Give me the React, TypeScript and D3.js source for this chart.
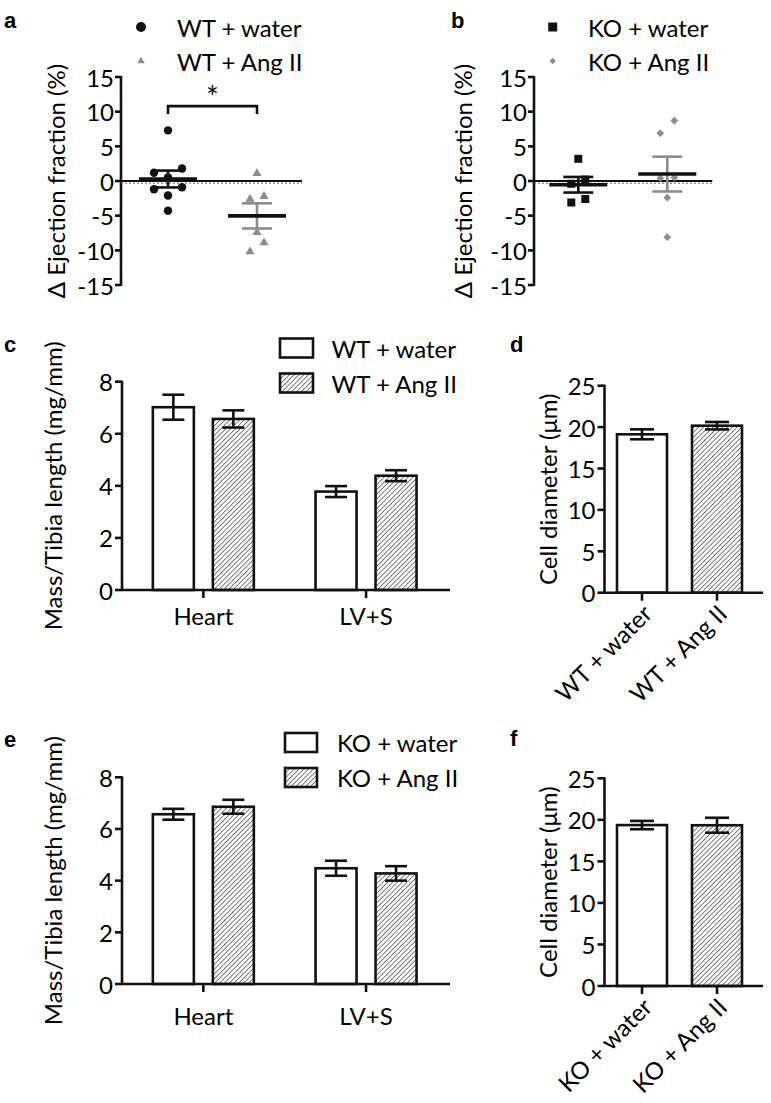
import React from "react";
import * as d3 from "d3";

// ---------------- data ----------------
const efTicks = [-15, -10, -5, 0, 5, 10, 15];
const wtGroups = ["WT + water", "WT + Ang II"];
const koGroups = ["KO + water", "KO + Ang II"];
const wtWaterEF = [7.3, 1.8, 1.2, 0.5, -0.9, -1.2, -2.1, -4.3];
const wtAngEF = [1.1, -2.2, -2.6, -7.4, -8.9, -10.2];
const koWaterEF = [3.2, 0.2, -0.4, -2.6, -3.1];
const koAngEF = [8.7, 6.9, 0.5, 0.4, -2.4, -8.1];
const sigLevel = 10.8;

const massCategories = ["Heart", "LV+S"];
const massTicks = [0, 2, 4, 6, 8];
const wtWaterMass = [7.02, 3.78];
const wtWaterMassSem = [0.48, 0.21];
const wtAngMass = [6.57, 4.39];
const wtAngMassSem = [0.33, 0.21];
const koWaterMass = [6.57, 4.48];
const koWaterMassSem = [0.21, 0.29];
const koAngMass = [6.86, 4.28];
const koAngMassSem = [0.27, 0.28];

const cellTicks = [0, 5, 10, 15, 20, 25];
const wtCell = [19.13, 20.17];
const wtCellSem = [0.6, 0.45];
const koCell = [19.37, 19.35];
const koCellSem = [0.5, 0.9];

// ---------------- style ----------------
const FONT = "Lato, 'Open Sans', sans-serif";
const BOLD = "'Liberation Sans', Arial, sans-serif";
const FS = 24;
const BLACK = "#111";
const GREY = "#8c8c8c";
const SW = 2.6;

type Mk = { type: d3.SymbolType; size: number; rot: number };

function Marker({ mk, x, y, color }: { mk: Mk; x: number; y: number; color: string }) {
  const d = d3.symbol().type(mk.type).size(mk.size)() as string;
  return <path d={d} transform={`translate(${x},${y}) rotate(${mk.rot})`} fill={color} />;
}

function swarmOffsets(values: number[], y: (v: number) => number, gap: number, step: number) {
  const idx = values.map((_, i) => i).sort((a, b) => values[a] - values[b]);
  const off = new Array(values.length).fill(0);
  let row: number[] = [];
  const flush = () => {
    const k = row.length;
    row.forEach((id, j) => {
      if (k % 2 === 1) {
        if (j === 0) off[id] = 0;
        else off[id] = (j % 2 === 1 ? -1 : 1) * Math.ceil(j / 2) * step;
      } else {
        off[id] = (j % 2 === 0 ? -1 : 1) * (Math.floor(j / 2) + 0.5) * step;
      }
    });
    row = [];
  };
  idx.forEach((id) => {
    if (row.length && Math.abs(y(values[id]) - y(values[row[0]])) >= gap) flush();
    row.push(id);
  });
  flush();
  return off;
}

function EFPanel(props: {
  axisX: number; firstX: number; groups: string[]; data: number[][];
  markers: Mk[]; legendMarkers: Mk[]; colors: string[]; semColors: string[];
  legendX: number; textX: number; panel: string; panelX: number; ylabelX: number; sig?: boolean;
}) {
  const { axisX, firstX, groups, data, markers, legendMarkers, colors, semColors, legendX, textX, panel, panelX, ylabelX, sig } = props;
  const y = d3.scaleLinear().domain([-15, 15]).range([285, 77]);
  const x = d3.scalePoint<string>().domain(groups).range([firstX, firstX + 89]);
  const zeroEnd = firstX + 89 + 45;
  const y0 = y(0);
  return (
    <g>
      <text x={panelX} y={28} fontFamily={BOLD} fontWeight="bold" fontSize={22}>{panel}</text>
      {groups.map((g, i) => (
        <g key={g}>
          <Marker mk={legendMarkers[i]} x={legendX} y={27 + i * 34} color={colors[i]} />
          <text x={textX} y={27 + i * 34} dominantBaseline="central" fontFamily={FONT} fontSize={FS}>{g}</text>
        </g>
      ))}
      <text transform={`translate(${ylabelX},${(y(15) + y(-15)) / 2}) rotate(-90)`} textAnchor="middle" dominantBaseline="central" fontFamily={FONT} fontSize={FS}>Δ Ejection fraction (%)</text>
      <line x1={axisX} x2={axisX} y1={y(15) - 1} y2={y(-15) + 1} stroke={BLACK} strokeWidth={SW} />
      {efTicks.map((t) => (
        <g key={t}>
          <line x1={axisX - 6} x2={axisX} y1={y(t)} y2={y(t)} stroke={BLACK} strokeWidth={SW} />
          <text x={axisX - 7} y={y(t)} textAnchor="end" dominantBaseline="central" fontFamily={FONT} fontSize={FS}>{t}</text>
        </g>
      ))}
      <line x1={axisX} x2={zeroEnd} y1={y0 + 2.2} y2={y0 + 2.2} stroke="#666" strokeWidth={1} strokeDasharray="2,2" />
      <line x1={axisX} x2={zeroEnd} y1={y0} y2={y0} stroke={BLACK} strokeWidth={2} />
      {groups.map((g, i) => {
        const vals = data[i];
        const cx = x(g) as number;
        const offs = swarmOffsets(vals, y, 13, 14);
        return (
          <g key={g}>
            {vals.map((v, j) => (
              <Marker key={j} mk={markers[i]} x={cx + offs[j]} y={y(v)} color={colors[i]} />
            ))}
          </g>
        );
      })}
      {groups.map((g, i) => {
        const vals = data[i];
        const cx = x(g) as number;
        const m = d3.mean(vals) as number;
        const sem = (d3.deviation(vals) as number) / Math.sqrt(vals.length);
        const c = semColors[i];
        return (
          <g key={g}>
            <line x1={cx} x2={cx} y1={y(m + sem)} y2={y(m - sem)} stroke={c} strokeWidth={SW} />
            <line x1={cx - 15} x2={cx + 15} y1={y(m + sem)} y2={y(m + sem)} stroke={c} strokeWidth={SW} />
            <line x1={cx - 15} x2={cx + 15} y1={y(m - sem)} y2={y(m - sem)} stroke={c} strokeWidth={SW} />
            <line x1={cx - 29} x2={cx + 29} y1={y(m)} y2={y(m)} stroke={BLACK} strokeWidth={3.6} />
          </g>
        );
      })}
      {sig && (
        <g>
          <path d={`M${x(groups[0])},${y(sigLevel) + 8}V${y(sigLevel)}H${x(groups[1])}V${y(sigLevel) + 8}`} fill="none" stroke={BLACK} strokeWidth={SW} />
          <text x={((x(groups[0]) as number) + (x(groups[1]) as number)) / 2} y={y(sigLevel) + 2} textAnchor="middle" fontFamily={FONT} fontSize={30}>*</text>
        </g>
      )}
    </g>
  );
}

function MassPanel(props: {
  yBase: number; yTop: number; names: string[]; values: number[][]; sems: number[][];
  boxX: number; boxW: number; textX: number; legendY: number; panel: string; panelY: number; xlabelY: number;
}) {
  const { yBase, yTop, names, values, sems, boxX, boxW, textX, legendY, panel, panelY, xlabelY } = props;
  const axisX = 122;
  const y = d3.scaleLinear().domain([0, 8]).range([yBase, yTop]);
  const x = d3.scaleBand<string>().domain(massCategories).range([axisX, axisX + 325.4]);
  const sub = d3.scaleBand<number>().domain([0, 1]).range([-50.5, 50.5]).paddingInner(2 - 101 / 60);
  return (
    <g>
      <text x={4} y={panelY} fontFamily={BOLD} fontWeight="bold" fontSize={22}>{panel}</text>
      {names.map((n, i) => (
        <g key={n}>
          <rect x={boxX} y={legendY + i * 35 - 9.5} width={boxW} height={19} fill={i === 1 ? "url(#hatch)" : "#fff"} stroke={BLACK} strokeWidth={SW} />
          <text x={textX} y={legendY + i * 35} dominantBaseline="central" fontFamily={FONT} fontSize={FS}>{n}</text>
        </g>
      ))}
      <text transform={`translate(52,${(yBase + yTop) / 2}) rotate(-90)`} textAnchor="middle" dominantBaseline="central" fontFamily={FONT} fontSize={FS}>Mass/Tibia length (mg/mm)</text>
      {massCategories.map((c, ci) => {
        const cx = (x(c) as number) + x.bandwidth() / 2;
        return (
          <g key={c}>
            {values.map((vals, si) => {
              const bx = cx + (sub(si) as number);
              const bw = sub.bandwidth();
              const v = vals[ci];
              const e = sems[si][ci];
              const mx = bx + bw / 2;
              return (
                <g key={si}>
                  <rect x={bx} y={y(v)} width={bw} height={yBase - y(v)} fill={si === 1 ? "url(#hatch)" : "#fff"} stroke={BLACK} strokeWidth={SW} />
                  <line x1={mx} x2={mx} y1={y(v + e)} y2={y(v - e)} stroke={BLACK} strokeWidth={SW} />
                  <line x1={mx - 11} x2={mx + 11} y1={y(v + e)} y2={y(v + e)} stroke={BLACK} strokeWidth={SW} />
                  <line x1={mx - 11} x2={mx + 11} y1={y(v - e)} y2={y(v - e)} stroke={BLACK} strokeWidth={SW} />
                </g>
              );
            })}
            <line x1={cx} x2={cx} y1={yBase} y2={yBase + 8} stroke={BLACK} strokeWidth={SW} />
            <text x={cx} y={xlabelY} textAnchor="middle" fontFamily={FONT} fontSize={FS}>{c}</text>
          </g>
        );
      })}
      <line x1={axisX} x2={axisX} y1={y(8) - 1} y2={yBase} stroke={BLACK} strokeWidth={SW} />
      <line x1={axisX - 1} x2={450} y1={yBase} y2={yBase} stroke={BLACK} strokeWidth={SW} />
      {massTicks.map((t) => (
        <g key={t}>
          <line x1={axisX - 7} x2={axisX} y1={y(t)} y2={y(t)} stroke={BLACK} strokeWidth={SW} />
          <text x={axisX - 9} y={y(t)} textAnchor="end" dominantBaseline="central" fontFamily={FONT} fontSize={FS}>{t}</text>
        </g>
      ))}
    </g>
  );
}

function CellPanel(props: {
  yBase: number; yTop: number; names: string[]; values: number[]; sems: number[]; panel: string; panelY: number;
}) {
  const { yBase, yTop, names, values, sems, panel, panelY } = props;
  const axisX = 604.5;
  const y = d3.scaleLinear().domain([0, 25]).range([yBase, yTop]);
  const x = d3.scaleBand<string>().domain(names).range([axisX, axisX + 150]).paddingInner(1 / 3).paddingOuter(1 / 6);
  return (
    <g>
      <text x={510} y={panelY} fontFamily={BOLD} fontWeight="bold" fontSize={22}>{panel}</text>
      <text transform={`translate(547,${(yBase + yTop) / 2}) rotate(-90)`} textAnchor="middle" dominantBaseline="central" fontFamily={FONT} fontSize={FS}>Cell diameter (μm)</text>
      {names.map((n, i) => {
        const bx = x(n) as number;
        const bw = x.bandwidth();
        const mx = bx + bw / 2;
        const v = values[i];
        const e = sems[i];
        return (
          <g key={n}>
            <rect x={bx} y={y(v)} width={bw} height={yBase - y(v)} fill={i === 1 ? "url(#hatch)" : "#fff"} stroke={BLACK} strokeWidth={SW} />
            <line x1={mx} x2={mx} y1={y(v + e)} y2={y(v - e)} stroke={BLACK} strokeWidth={SW} />
            <line x1={mx - 12} x2={mx + 12} y1={y(v + e)} y2={y(v + e)} stroke={BLACK} strokeWidth={SW} />
            <line x1={mx - 12} x2={mx + 12} y1={y(v - e)} y2={y(v - e)} stroke={BLACK} strokeWidth={SW} />
            <line x1={mx} x2={mx} y1={yBase} y2={yBase + 8} stroke={BLACK} strokeWidth={SW} />
            <text transform={`translate(${mx + 5},${yBase + 16}) rotate(-45)`} textAnchor="end" dominantBaseline="central" fontFamily={FONT} fontSize={FS}>{n}</text>
          </g>
        );
      })}
      <line x1={axisX} x2={axisX} y1={y(25) - 1} y2={yBase} stroke={BLACK} strokeWidth={SW} />
      <line x1={axisX - 1} x2={763} y1={yBase} y2={yBase} stroke={BLACK} strokeWidth={SW} />
      {cellTicks.map((t) => (
        <g key={t}>
          <line x1={axisX - 7} x2={axisX} y1={y(t)} y2={y(t)} stroke={BLACK} strokeWidth={SW} />
          <text x={axisX - 9} y={y(t)} textAnchor="end" dominantBaseline="central" fontFamily={FONT} fontSize={FS}>{t}</text>
        </g>
      ))}
    </g>
  );
}

export default function App() {
  const circle: Mk = { type: d3.symbolCircle, size: 56, rot: 0 };
  const tri: Mk = { type: d3.symbolTriangle, size: 36, rot: 0 };
  const square: Mk = { type: d3.symbolSquare, size: 64, rot: 0 };
  const diamond: Mk = { type: d3.symbolSquare, size: 30, rot: 45 };
  const lCircle: Mk = { type: d3.symbolCircle, size: 78, rot: 0 };
  const lTri: Mk = { type: d3.symbolTriangle, size: 24, rot: 0 };
  const lSquare: Mk = { type: d3.symbolSquare, size: 81, rot: 0 };
  const lDiamond: Mk = { type: d3.symbolSquare, size: 20, rot: 45 };
  return (
    <div style={{ position: "absolute", left: 0, top: 0 }}>
      <svg width={771} height={1103} viewBox="0 0 771 1103" style={{ display: "block", background: "#fff" }}>
        <defs>
          <pattern id="hatch" patternUnits="userSpaceOnUse" width={3.4} height={3.4} patternTransform="rotate(45)">
            <rect width={3.4} height={3.4} fill="#fff" />
            <line x1={0} y1={0} x2={0} y2={3.4} stroke={BLACK} strokeWidth={1.1} />
          </pattern>
        </defs>
        <EFPanel axisX={121} firstX={168} groups={wtGroups} data={[wtWaterEF, wtAngEF]}
          markers={[circle, tri]} legendMarkers={[lCircle, lTri]} colors={[BLACK, GREY]} semColors={[BLACK, GREY]}
          legendX={141} textX={177} panel="a" panelX={4} ylabelX={55} sig />
        <EFPanel axisX={534} firstX={578.3} groups={koGroups} data={[koWaterEF, koAngEF]}
          markers={[square, diamond]} legendMarkers={[lSquare, lDiamond]} colors={[BLACK, GREY]} semColors={[BLACK, GREY]}
          legendX={552.7} textX={588} panel="b" panelX={451} ylabelX={462} />
        <MassPanel yBase={590} yTop={381.7} names={wtGroups} values={[wtWaterMass, wtAngMass]} sems={[wtWaterMassSem, wtAngMassSem]}
          boxX={280} boxW={33} textX={331.5} legendY={348} panel="c" panelY={352} xlabelY={625} />
        <CellPanel yBase={592.7} yTop={385.7} names={wtGroups} values={wtCell} sems={wtCellSem} panel="d" panelY={352} />
        <MassPanel yBase={984} yTop={777.3} names={koGroups} values={[koWaterMass, koAngMass]} sems={[koWaterMassSem, koAngMassSem]}
          boxX={285} boxW={32} textX={337} legendY={742.5} panel="e" panelY={747} xlabelY={1025} />
        <CellPanel yBase={986} yTop={778.3} names={koGroups} values={koCell} sems={koCellSem} panel="f" panelY={746} />
      </svg>
    </div>
  );
}
